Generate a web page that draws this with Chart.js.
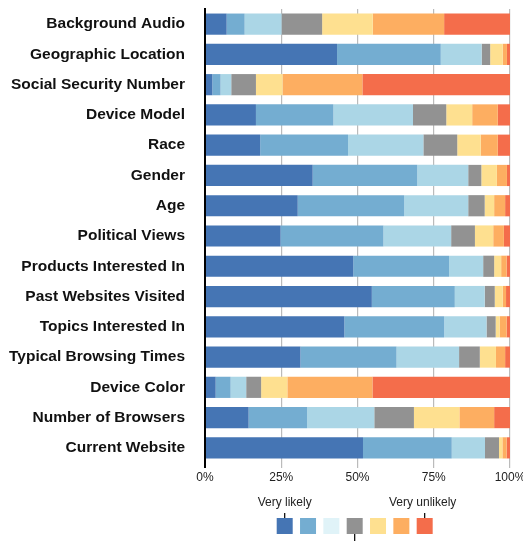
<!DOCTYPE html>
<html>
<head>
<meta charset="utf-8">
<script src="https://cdn.jsdelivr.net/npm/chart.js@4"></script>
<style>
  html, body { margin: 0; padding: 0; background: #fff; }
  #wrap { width: 523px; height: 542px; }
</style>
</head>
<body>
<div id="wrap"><canvas id="barChart"></canvas></div>
<script>
// rows, top to bottom
const categories = [
    'Background Audio', 'Geographic Location', 'Social Security Number', 'Device Model',
    'Race', 'Gender', 'Age', 'Political Views', 'Products Interested In',
    'Past Websites Visited', 'Topics Interested In', 'Typical Browsing Times',
    'Device Color', 'Number of Browsers', 'Current Website'
];

// share of answers per level (%), "very likely" -> "very unlikely"
const level1 = [7.1, 43.3, 2.4, 16.7, 18.1, 35.3, 30.4, 24.8, 48.6, 54.7, 45.7, 31.3, 3.5, 14.3, 51.8];
const level2 = [5.9, 34.0, 2.7, 25.4, 28.8, 34.3, 34.9, 33.7, 31.4, 27.2, 32.7, 31.5, 4.9, 19.2, 29.1];
const level3 = [12.1, 13.4, 3.5, 26.1, 24.7, 16.7, 21.0, 22.2, 11.2, 9.8, 13.9, 20.5, 5.1, 22.0, 10.9];
const level4 = [13.3, 2.8, 8.1, 10.9, 11.1, 4.3, 5.4, 7.8, 3.6, 3.3, 3.0, 6.8, 4.9, 13.0, 4.6];
const level5 = [16.6, 4.1, 8.7, 8.5, 7.7, 5.1, 3.1, 6.0, 2.3, 2.6, 1.3, 5.3, 8.6, 14.9, 1.1];
const level6 = [23.4, 1.4, 26.2, 8.4, 5.6, 3.3, 3.6, 3.5, 1.8, 1.1, 2.3, 3.0, 27.9, 11.4, 1.4];
const level7 = [21.6, 1.0, 48.4, 4.0, 4.0, 1.0, 1.6, 2.0, 1.1, 1.3, 1.1, 1.6, 45.1, 5.2, 1.1];

const xTicks = [0, 25, 50, 75, 100];

const barColors = ['#4575b4', '#74add1', '#abd6e6', '#929292', '#fee090', '#fdae61', '#f46d4b'];
const keyColors = ['#4575b4', '#74add1', '#e0f3f8', '#929292', '#fee090', '#fdae61', '#f46d4b'];

const font = "Helvetica, Arial, 'Liberation Sans', sans-serif";

// little key under the chart
const likertKey = {
    id: 'likertKey',
    afterDraw(chart) {
        const c = chart.ctx;
        const size = 16, step = 23.33, x0 = 276.7, top = 518;
        c.save();
        keyColors.forEach((col, i) => {
            c.fillStyle = col;
            c.fillRect(x0 + i * step, top, size, size);
        });
        const first = x0 + size / 2, last = x0 + 6 * step + size / 2, mid = x0 + 3 * step + size / 2;
        c.strokeStyle = '#000';
        c.lineWidth = 1.2;
        c.beginPath();
        c.moveTo(first, top - 5); c.lineTo(first, top);
        c.moveTo(last, top - 5); c.lineTo(last, top);
        c.moveTo(mid, top + size); c.lineTo(mid, top + size + 7);
        c.stroke();
        c.fillStyle = '#222';
        c.font = '12px ' + font;
        c.textAlign = 'center';
        c.textBaseline = 'middle';
        c.fillText('Very likely', first, 503);
        c.fillText('Very unlikely', last - 2, 503);
        c.restore();
    }
};

const ctx = document.getElementById('barChart').getContext('2d');

const barChart = new Chart(ctx, {
    type: 'bar',
    data: {
        labels: categories,
        datasets: [level1, level2, level3, level4, level5, level6, level7].map((d, i) => ({
            label: 'Level ' + (i + 1),
            data: d,
            backgroundColor: barColors[i],
            borderWidth: 0,
            barPercentage: 0.7,
            categoryPercentage: 1
        }))
    },
    options: {
        indexAxis: 'y',
        responsive: true,
        maintainAspectRatio: false,
        animation: false,
        layout: { padding: { top: 9, right: 13, bottom: 49, left: 0 } },
        plugins: {
            legend: { display: false },
            tooltip: { enabled: false }
        },
        scales: {
            x: {
                stacked: true,
                min: 0,
                max: 100,
                afterBuildTicks: s => { s.ticks = xTicks.map(v => ({ value: v })); },
                afterFit: s => { s.height = 30; s.paddingLeft = 0; s.paddingRight = 0; },
                border: { display: false },
                grid: {
                    color: c => c.tick && c.tick.value === 0 ? '#000' : '#bbb',
                    lineWidth: c => c.tick && c.tick.value === 0 ? 2 : 1.2,
                    tickLength: 5
                },
                ticks: {
                    color: '#222',
                    font: { family: font, size: 12 },
                    padding: 2,
                    maxRotation: 0,
                    callback: v => v + '%'
                }
            },
            y: {
                stacked: true,
                afterFit: s => { s.width = 205; s.paddingTop = 0; s.paddingBottom = 0; },
                border: { display: true, color: '#000', width: 2 },
                grid: { display: false },
                ticks: {
                    color: '#111',
                    font: { family: font, size: 15.5, weight: 'bold' },
                    padding: 12
                }
            }
        }
    },
    plugins: [likertKey]
});
</script>
</body>
</html>
